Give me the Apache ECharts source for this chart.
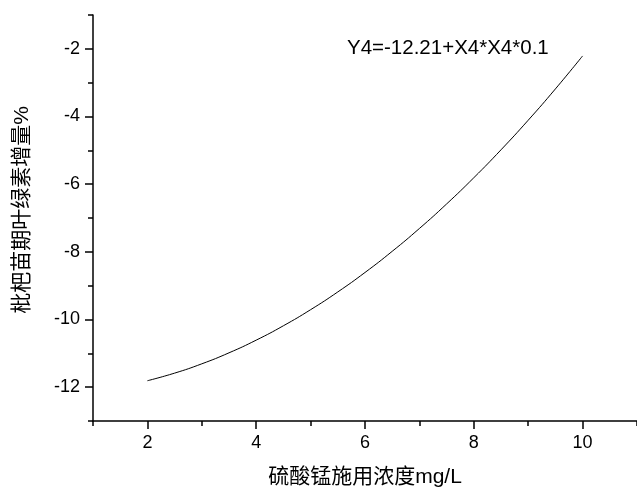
<!DOCTYPE html>
<html>
<head>
<meta charset="utf-8">
<script src="https://cdn.jsdelivr.net/npm/echarts@6/dist/echarts.min.js"></script>
<style>html,body{margin:0;padding:0;background:#fff}#c{width:637px;height:493px}</style>
</head>
<body>
<div id="c"></div>
<script>
// Data
const xValues = [2, 2.5, 3, 3.5, 4, 4.5, 5, 5.5, 6, 6.5, 7, 7.5, 8, 8.5, 9, 9.5, 10];
const yValues = [-11.81, -11.585, -11.31, -10.985, -10.61, -10.185, -9.71, -9.185, -8.61, -7.985, -7.31, -6.585, -5.81, -4.985, -4.11, -3.185, -2.21];
const xMajorTicks = [2, 4, 6, 8, 10];
const xMinorTicks = [1, 3, 5, 7, 9, 11];
const yMajorTicks = [-12, -10, -8, -6, -4, -2];
const yMinorTicks = [-13, -11, -9, -7, -5, -3, -1];
const xAxisTitle = '硫酸锰施用浓度mg/L';
const yAxisTitle = '枇杷苗期叶绿素增量%';
const equationText = 'Y4=-12.21+X4*X4*0.1';

const latin = '"Liberation Sans", Arial, sans-serif';
const cjk = '"Liberation Sans", "Noto Sans CJK SC", sans-serif';

const chart = echarts.init(document.getElementById('c'));
const axisLine = { show: true, lineStyle: { color: '#000', width: 1.5 } };
const tickLabelStyle = { color: '#000', fontSize: 18, fontFamily: latin };

chart.setOption({
  animation: false,
  backgroundColor: '#fff',
  grid: { left: 93, top: 15, right: -4.5, bottom: 69, containLabel: false },
  graphic: [{
    type: 'text', left: 347, top: 38,
    style: { text: equationText, font: '20.5px ' + latin, fill: '#000' }
  }],
  xAxis: [{
    type: 'value', min: 1, max: 11, position: 'bottom',
    axisLine: axisLine,
    axisTick: { show: true, inside: false, length: 8, customValues: xMajorTicks, lineStyle: { color: '#000', width: 1.5 } },
    axisLabel: Object.assign({ customValues: xMajorTicks, margin: 13 }, tickLabelStyle),
    splitLine: { show: false },
    name: xAxisTitle, nameLocation: 'middle', nameGap: 46,
    nameTextStyle: { color: '#000', fontSize: 21, fontFamily: cjk }
  }, {
    type: 'value', min: 1, max: 11, position: 'bottom',
    axisLine: { show: false },
    axisTick: { show: true, inside: false, length: 5, customValues: xMinorTicks, lineStyle: { color: '#000', width: 1.5 } },
    axisLabel: { show: false },
    splitLine: { show: false }
  }],
  yAxis: [{
    type: 'value', min: -13, max: -1, position: 'left',
    axisLine: axisLine,
    axisTick: { show: true, inside: false, length: 8, customValues: yMajorTicks, lineStyle: { color: '#000', width: 1.5 } },
    axisLabel: Object.assign({ customValues: yMajorTicks, margin: 13 }, tickLabelStyle),
    splitLine: { show: false },
    name: yAxisTitle, nameLocation: 'middle', nameGap: 60, nameRotate: 90,
    nameTextStyle: { color: '#000', fontSize: 21, fontFamily: cjk, padding: [0, 0, 0, 16] }
  }, {
    type: 'value', min: -13, max: -1, position: 'left',
    axisLine: { show: false },
    axisTick: { show: true, inside: false, length: 5, customValues: yMinorTicks, lineStyle: { color: '#000', width: 1.5 } },
    axisLabel: { show: false },
    splitLine: { show: false }
  }],
  series: [{
    type: 'line', xAxisIndex: 0, yAxisIndex: 0,
    data: xValues.map((x, i) => [x, yValues[i]]),
    smooth: true, showSymbol: false, symbol: 'none',
    lineStyle: { color: '#000', width: 1 }
  }]
});
</script>
</body>
</html>
